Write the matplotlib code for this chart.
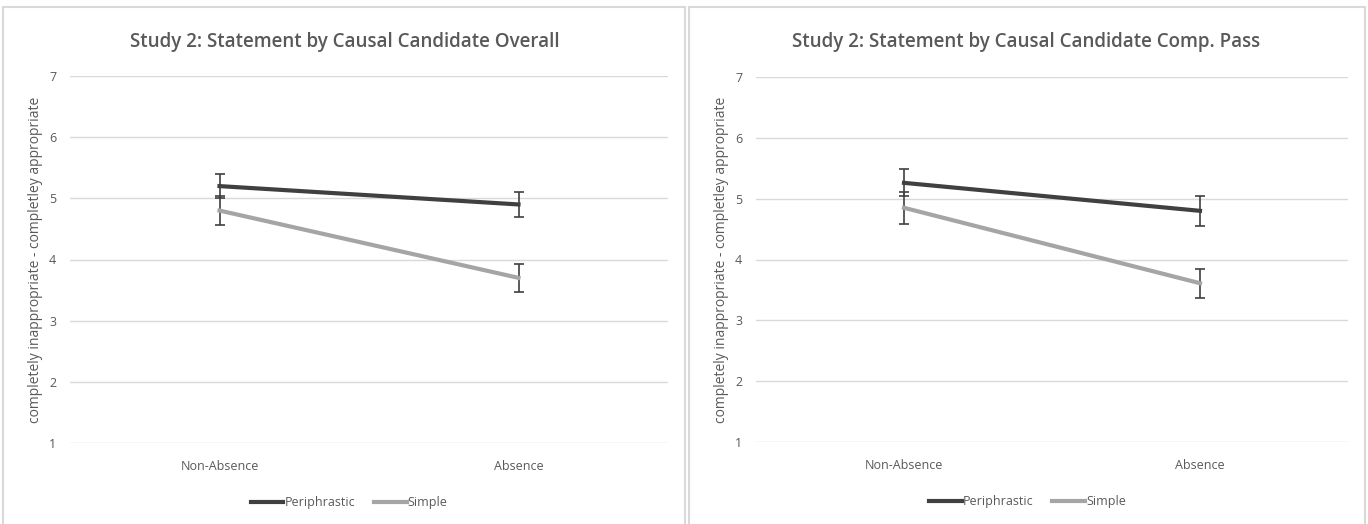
import matplotlib.pyplot as plt
from matplotlib.patches import Rectangle

plt.rcParams['font.family'] = ['Open Sans', 'DejaVu Sans']

categories = ['Non-Absence', 'Absence']
series_names = ['Periphrastic', 'Simple']

# Overall
overall_periphrastic = [5.20, 4.90]
overall_periphrastic_err = [0.19, 0.21]
overall_simple = [4.80, 3.70]
overall_simple_err = [0.23, 0.23]

# Comp. Pass
pass_periphrastic = [5.26, 4.80]
pass_periphrastic_err = [0.22, 0.25]
pass_simple = [4.85, 3.61]
pass_simple_err = [0.26, 0.24]

titles = ['Study 2: Statement by Causal Candidate Overall',
          'Study 2: Statement by Causal Candidate Comp. Pass']
ylabel = 'completely inappropriate - completley appropriate'

DARK = '#404040'
LIGHT = '#a5a5a5'
TEXT = '#595959'
GRID = '#d9d9d9'

W, H = 1368, 524
fig = plt.figure(figsize=(W / 100, H / 100), dpi=100)

# chart borders (pixel coords -> figure fraction)
for x0, x1 in [(3, 685), (689, 1365)]:
    fig.patches.append(Rectangle((x0 / W, -0.05), (x1 - x0) / W, 1.05 - 7 / H,
                                 transform=fig.transFigure, fill=False,
                                 edgecolor=GRID, linewidth=1.5))

axes_px = [(70, 668, 76, 443), (756, 1348, 77, 442)]
title_x = [345, 1026]
legend_x = [0.467, 0.459]
data = [
    (overall_periphrastic, overall_periphrastic_err, overall_simple, overall_simple_err),
    (pass_periphrastic, pass_periphrastic_err, pass_simple, pass_simple_err),
]

for i, ((xl, xr, yt, yb), (p, pe, s, se)) in enumerate(zip(axes_px, data)):
    ax = fig.add_axes([xl / W, 1 - yb / H, (xr - xl) / W, (yb - yt) / H])
    x = range(len(categories))
    ax.errorbar(x, p, yerr=pe, color=DARK, linewidth=3, ecolor=DARK,
                elinewidth=1.2, capsize=3.5, capthick=1.2, label=series_names[0], zorder=3)
    ax.errorbar(x, s, yerr=se, color=LIGHT, linewidth=3, ecolor=DARK,
                elinewidth=1.2, capsize=3.5, capthick=1.2, label=series_names[1], zorder=2)
    ax.set_xlim(-0.5, 1.5)
    ax.set_ylim(1, 7)
    ax.set_yticks(range(1, 8))
    ax.set_xticks(list(x))
    ax.set_xticklabels(categories)
    ax.grid(axis='y', color=GRID, linewidth=1)
    ax.set_axisbelow(True)
    for sp in ax.spines.values():
        sp.set_visible(False)
    ax.tick_params(length=0, labelsize=9, colors=TEXT, pad=10)
    ax.tick_params(axis='x', pad=12)
    ax.set_ylabel(ylabel, fontsize=10, color=TEXT, labelpad=4)
    fig.text(title_x[i] / W, 1 - 42 / H, titles[i], fontsize=13.5, color=TEXT,
             fontweight='semibold', ha='center', va='center')
    h, l = ax.get_legend_handles_labels()
    h = [hh[0] for hh in h]
    ax.legend(h, l, loc='upper center', bbox_to_anchor=(legend_x[i], -0.115), ncol=2,
              frameon=False, handlelength=2.6, handletextpad=0.1,
              columnspacing=1.5, fontsize=9, labelcolor=TEXT)

fig.savefig('out.png', dpi=100)
